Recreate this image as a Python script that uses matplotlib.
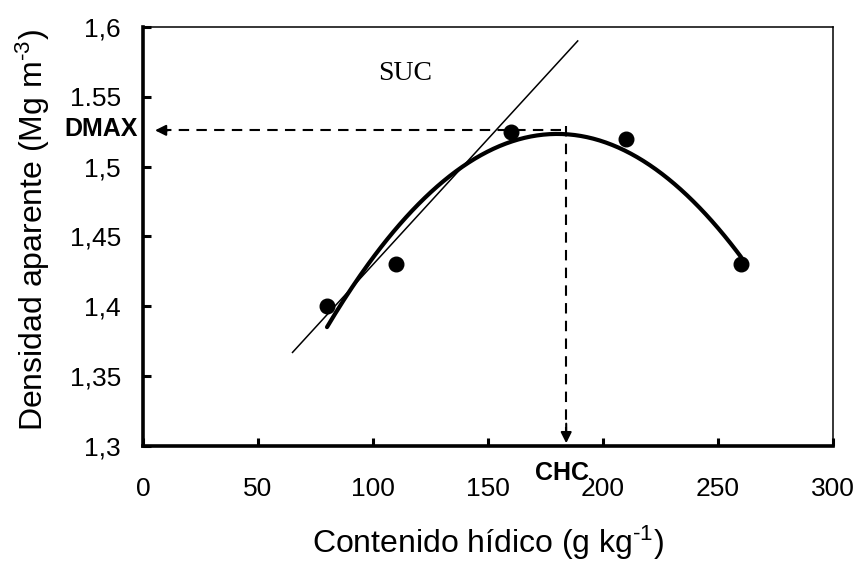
import numpy as np
import matplotlib
matplotlib.use('Agg')
import matplotlib.pyplot as plt

plt.rcParams['font.family'] = ['Liberation Sans', 'DejaVu Sans']
plt.rcParams['mathtext.fontset'] = 'custom'
plt.rcParams['mathtext.rm'] = 'Liberation Sans'
plt.rcParams['mathtext.it'] = 'Liberation Sans'

# measured points
contenido = [80, 110, 160, 210, 260]
densidad = [1.40, 1.43, 1.525, 1.52, 1.43]

# tangent line (SUC) end points
suc_x = [65, 189]
suc_y = [1.367, 1.59]

# maximum density / critical water content
dmax = 1.526
chc = 184

yticks = [1.3, 1.35, 1.4, 1.45, 1.5, 1.55, 1.6]
ytick_labels = ['1,3', '1,35', '1,4', '1,45', '1,5', '1.55', '1,6']
xticks = [0, 50, 100, 150, 200, 250, 300]

fig = plt.figure(figsize=(8.6, 5.62), dpi=100)
ax = fig.add_axes([0.1663, 0.2064, 0.8023, 0.7456])

# 2nd order trendline, as in the spreadsheet
coef = np.polyfit(contenido, densidad, 2)
xx = np.linspace(min(contenido), max(contenido), 200)
ax.plot(xx, np.polyval(coef, xx), color='black', lw=3, solid_capstyle='round', zorder=3)

ax.plot(suc_x, suc_y, color='black', lw=1.1, zorder=3)
ax.plot(contenido, densidad, 'o', color='black', ms=10.5, zorder=4)

# dashed guides with arrow heads
ax.plot([8, chc], [dmax, dmax], color='black', lw=1.5, ls=(0, (5, 3.5)), zorder=2)
ax.plot([chc, chc], [dmax + 0.003, 1.31], color='black', lw=1.5, ls=(0, (5, 3.5)), zorder=2)
ax.annotate('', xy=(4, dmax), xytext=(12, dmax),
            arrowprops=dict(arrowstyle='-|>', color='black', lw=1.5, mutation_scale=16), zorder=3)
ax.annotate('', xy=(chc, 1.3), xytext=(chc, 1.318),
            arrowprops=dict(arrowstyle='-|>', color='black', lw=1.5, mutation_scale=16), zorder=3)

ax.text(-2.2, dmax + 0.001, 'DMAX', ha='right', va='center', fontsize=18, fontweight='bold',
        clip_on=False, zorder=5, bbox=dict(facecolor='white', edgecolor='none', pad=0.5))
ax.text(182, 1.289, 'CHC', ha='center', va='top', fontsize=18, fontweight='bold',
        clip_on=False, zorder=5, bbox=dict(facecolor='white', edgecolor='none', pad=0.5))
ax.text(114, 1.567, 'SUC', ha='center', va='center', fontsize=20, family='Liberation Serif')

ax.set_xlim(0, 300)
ax.set_ylim(1.3, 1.6)
ax.set_xticks(xticks)
ax.set_yticks(yticks)
ax.set_yticklabels(ytick_labels)
ax.tick_params(direction='in', length=6, width=2.2, labelsize=19)
ax.tick_params(axis='x', pad=22)
ax.tick_params(axis='y', pad=16)

for side in ['left', 'bottom']:
    ax.spines[side].set_linewidth(2.6)
for side in ['top', 'right']:
    ax.spines[side].set_linewidth(1.1)

ax.set_xlabel(r'Contenido hídico (g kg$^{\text{-1}}$)', fontsize=23, labelpad=17)
ax.set_ylabel(r'Densidad aparente (Mg m$^{\text{-3}}$)', fontsize=23)
ax.yaxis.set_label_coords(-0.132, 0.515)

fig.savefig('out.png', dpi=100)
